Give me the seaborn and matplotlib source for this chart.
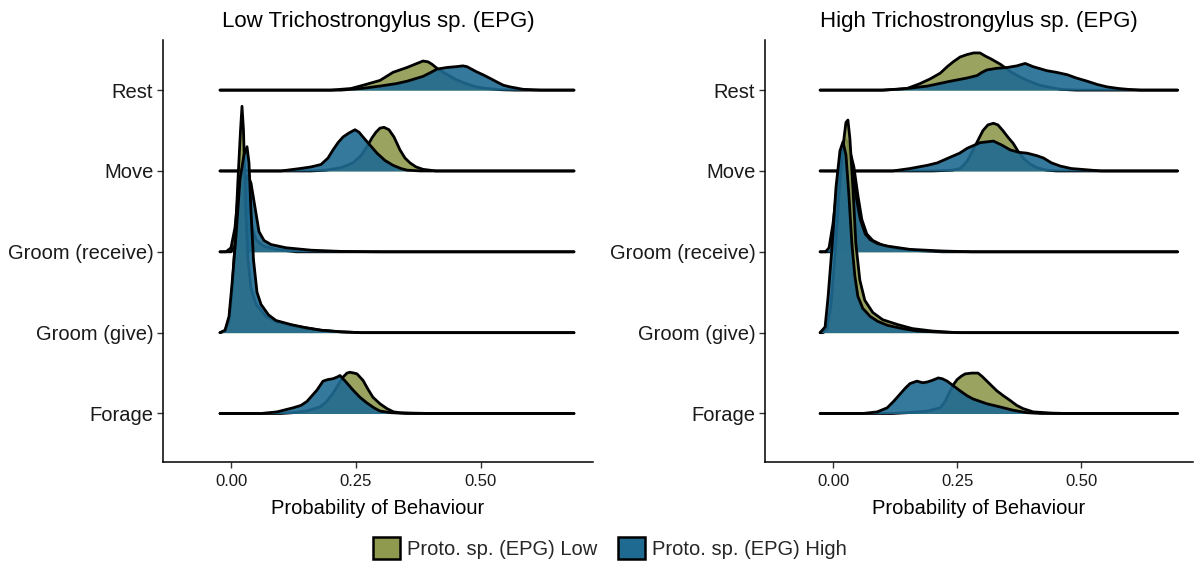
import matplotlib
matplotlib.use("Agg")
import matplotlib.pyplot as plt
import seaborn as sns
import pandas as pd
from matplotlib.patches import Patch

sns.set_theme(style="white")
plt.rcParams['font.family'] = ['Liberation Sans', 'DejaVu Sans']

# ---------------- data ----------------
behaviours = ["Forage", "Groom (give)", "Groom (receive)", "Move", "Rest"]
panel_titles = ["Low Trichostrongylus sp. (EPG)", "High Trichostrongylus sp. (EPG)"]
group_labels = ["Proto. sp. (EPG) Low", "Proto. sp. (EPG) High"]
x_ticks = [0.0, 0.25, 0.5]
x_tick_labels = ["0.00", "0.25", "0.50"]
x_label = "Probability of Behaviour"
data_range = [(-0.022, 0.686), (-0.026, 0.694)]

# scaled ridge heights (x, height in row units)
# ---- Low Trichostrongylus panel ----
lt_rest_low = [(0.20, 0.0), (0.24, 0.02), (0.264, 0.06), (0.298, 0.12), (0.324, 0.22), (0.352, 0.28),
               (0.372, 0.33), (0.384, 0.36), (0.394, 0.35), (0.402, 0.32), (0.412, 0.27), (0.43, 0.2),
               (0.45, 0.13), (0.47, 0.08), (0.49, 0.04), (0.512, 0.02), (0.54, 0.005), (0.57, 0.0)]
lt_rest_high = [(0.22, 0.0), (0.26, 0.02), (0.298, 0.05), (0.33, 0.08), (0.352, 0.11), (0.384, 0.17),
                (0.40, 0.22), (0.412, 0.26), (0.432, 0.28), (0.45, 0.29), (0.464, 0.30), (0.472, 0.29),
                (0.478, 0.27), (0.49, 0.23), (0.504, 0.19), (0.52, 0.14), (0.532, 0.1), (0.545, 0.06),
                (0.558, 0.04), (0.584, 0.01), (0.62, 0.0)]
lt_move_low = [(0.16, 0.0), (0.19, 0.01), (0.22, 0.04), (0.244, 0.1), (0.26, 0.19), (0.272, 0.3),
               (0.282, 0.41), (0.29, 0.48), (0.298, 0.53), (0.306, 0.54), (0.316, 0.51), (0.326, 0.42),
               (0.338, 0.26), (0.348, 0.16), (0.358, 0.1), (0.37, 0.05), (0.384, 0.02), (0.41, 0.0)]
lt_move_high = [(0.10, 0.0), (0.138, 0.03), (0.16, 0.05), (0.18, 0.08), (0.194, 0.16), (0.204, 0.26),
                (0.214, 0.35), (0.224, 0.42), (0.236, 0.47), (0.248, 0.51), (0.256, 0.48), (0.264, 0.42),
                (0.278, 0.32), (0.292, 0.22), (0.308, 0.13), (0.324, 0.07), (0.34, 0.03), (0.352, 0.01),
                (0.38, 0.0)]
lt_grec_low = [(-0.01, 0.0), (0.0, 0.05), (0.008, 0.3), (0.014, 0.7), (0.02, 1.0), (0.026, 0.95),
               (0.032, 0.7), (0.04, 0.35), (0.05, 0.15), (0.065, 0.07), (0.09, 0.03), (0.13, 0.0)]
lt_grec_high = [(0.0, 0.0), (0.01, 0.1), (0.018, 0.4), (0.026, 0.8), (0.033, 0.95), (0.04, 0.85),
                (0.048, 0.55), (0.056, 0.25), (0.066, 0.14), (0.08, 0.09), (0.11, 0.05), (0.16, 0.02),
                (0.22, 0.005), (0.3, 0.0)]
lt_ggive_low = [(-0.012, 0.02), (-0.004, 0.15), (0.002, 0.5), (0.008, 1.1), (0.014, 1.9), (0.019, 2.5),
                (0.022, 2.8), (0.025, 2.5), (0.029, 1.6), (0.034, 0.9), (0.04, 0.55), (0.05, 0.35),
                (0.07, 0.2), (0.09, 0.14), (0.12, 0.09), (0.15, 0.06), (0.18, 0.03), (0.22, 0.01),
                (0.26, 0.0)]
lt_ggive_high = [(-0.012, 0.03), (-0.004, 0.2), (0.002, 0.6), (0.01, 1.2), (0.018, 1.9), (0.026, 2.2),
                 (0.032, 2.3), (0.036, 2.1), (0.04, 1.5), (0.045, 0.9), (0.052, 0.5), (0.06, 0.35),
                 (0.075, 0.22), (0.09, 0.15), (0.12, 0.1), (0.15, 0.06), (0.18, 0.03), (0.22, 0.01),
                 (0.26, 0.0)]
lt_forage_low = [(0.10, 0.0), (0.124, 0.01), (0.15, 0.03), (0.178, 0.08), (0.19, 0.14), (0.204, 0.25),
                 (0.214, 0.35), (0.224, 0.45), (0.232, 0.5), (0.238, 0.51), (0.246, 0.5), (0.252, 0.49),
                 (0.258, 0.45), (0.264, 0.41), (0.274, 0.3), (0.284, 0.2), (0.298, 0.12), (0.312, 0.06),
                 (0.325, 0.02), (0.338, 0.01), (0.36, 0.005), (0.40, 0.0)]
lt_forage_high = [(0.06, 0.0), (0.092, 0.02), (0.124, 0.07), (0.14, 0.1), (0.152, 0.15), (0.162, 0.22),
                  (0.172, 0.29), (0.184, 0.40), (0.194, 0.42), (0.204, 0.43), (0.212, 0.45), (0.218, 0.47),
                  (0.23, 0.39), (0.244, 0.29), (0.258, 0.2), (0.272, 0.13), (0.286, 0.07), (0.298, 0.03),
                  (0.32, 0.01), (0.35, 0.0)]

# ---- High Trichostrongylus panel ----
ht_rest_low = [(0.10, 0.0), (0.13, 0.01), (0.149, 0.02), (0.175, 0.08), (0.196, 0.14), (0.216, 0.21),
               (0.23, 0.29), (0.242, 0.35), (0.256, 0.41), (0.27, 0.44), (0.283, 0.46), (0.296, 0.46),
               (0.307, 0.42), (0.317, 0.39), (0.337, 0.32), (0.357, 0.23), (0.377, 0.16), (0.395, 0.11),
               (0.417, 0.06), (0.44, 0.03), (0.458, 0.01), (0.49, 0.0)]
ht_rest_high = [(0.10, 0.0), (0.149, 0.02), (0.19, 0.05), (0.236, 0.11), (0.27, 0.15), (0.29, 0.18),
                (0.30, 0.22), (0.31, 0.25), (0.33, 0.27), (0.351, 0.28), (0.37, 0.30), (0.387, 0.33),
                (0.395, 0.31), (0.403, 0.29), (0.431, 0.24), (0.45, 0.22), (0.472, 0.19), (0.49, 0.15),
                (0.512, 0.11), (0.532, 0.07), (0.552, 0.04), (0.575, 0.02), (0.593, 0.01), (0.62, 0.0)]
ht_move_low = [(0.20, 0.0), (0.24, 0.01), (0.256, 0.03), (0.27, 0.12), (0.282, 0.26), (0.292, 0.38),
               (0.302, 0.50), (0.312, 0.57), (0.323, 0.59), (0.332, 0.57), (0.342, 0.5), (0.352, 0.42),
               (0.363, 0.34), (0.373, 0.24), (0.383, 0.16), (0.396, 0.09), (0.411, 0.04), (0.43, 0.01),
               (0.45, 0.0)]
ht_move_high = [(0.12, 0.0), (0.155, 0.03), (0.19, 0.07), (0.21, 0.1), (0.236, 0.17), (0.255, 0.22),
                (0.27, 0.28), (0.285, 0.32), (0.296, 0.35), (0.31, 0.36), (0.323, 0.37), (0.34, 0.32),
                (0.357, 0.26), (0.375, 0.23), (0.391, 0.22), (0.41, 0.19), (0.424, 0.16), (0.44, 0.1),
                (0.458, 0.06), (0.48, 0.03), (0.50, 0.02), (0.54, 0.0)]
ht_grec_low = [(-0.005, 0.0), (0.005, 0.1), (0.014, 0.4), (0.022, 0.85), (0.03, 1.15), (0.036, 1.2),
               (0.042, 1.05), (0.05, 0.7), (0.058, 0.4), (0.068, 0.22), (0.08, 0.14), (0.1, 0.08),
               (0.13, 0.04), (0.17, 0.015), (0.22, 0.0)]
ht_grec_high = [(-0.015, 0.0), (-0.008, 0.05), (0.0, 0.35), (0.008, 0.8), (0.016, 1.2), (0.024, 1.4),
                (0.03, 1.35), (0.038, 1.05), (0.046, 0.7), (0.055, 0.4), (0.065, 0.22), (0.075, 0.15),
                (0.09, 0.1), (0.11, 0.07), (0.155, 0.03), (0.22, 0.01), (0.28, 0.0)]
ht_ggive_low = [(-0.02, 0.0), (-0.012, 0.05), (-0.004, 0.35), (0.004, 0.95), (0.012, 1.7), (0.02, 2.3),
                (0.026, 2.6), (0.03, 2.63), (0.034, 2.4), (0.04, 1.8), (0.046, 1.1), (0.054, 0.65),
                (0.064, 0.4), (0.08, 0.25), (0.1, 0.16), (0.13, 0.1), (0.16, 0.05), (0.2, 0.02),
                (0.25, 0.0)]
ht_ggive_high = [(-0.026, 0.0), (-0.016, 0.07), (-0.01, 0.44), (-0.002, 1.06), (0.006, 1.8), (0.014, 2.25),
                 (0.02, 2.36), (0.026, 2.2), (0.032, 1.7), (0.038, 1.1), (0.044, 0.7), (0.05, 0.45),
                 (0.06, 0.3), (0.075, 0.2), (0.09, 0.14), (0.11, 0.09), (0.14, 0.05), (0.17, 0.02),
                 (0.22, 0.005), (0.26, 0.0)]
ht_forage_low = [(0.12, 0.0), (0.15, 0.01), (0.19, 0.03), (0.216, 0.07), (0.226, 0.15), (0.236, 0.28),
                 (0.244, 0.37), (0.25, 0.42), (0.258, 0.46), (0.266, 0.49), (0.28, 0.5), (0.292, 0.5),
                 (0.30, 0.46), (0.31, 0.40), (0.32, 0.34), (0.33, 0.28), (0.343, 0.22), (0.357, 0.16),
                 (0.37, 0.1), (0.383, 0.06), (0.403, 0.02), (0.44, 0.005), (0.47, 0.0)]
ht_forage_high = [(0.06, 0.0), (0.089, 0.02), (0.109, 0.07), (0.122, 0.15), (0.135, 0.24), (0.145, 0.31),
                  (0.155, 0.37), (0.169, 0.40), (0.181, 0.38), (0.19, 0.39), (0.2, 0.41), (0.212, 0.44),
                  (0.22, 0.43), (0.23, 0.40), (0.243, 0.34), (0.256, 0.28), (0.27, 0.22), (0.282, 0.18),
                  (0.296, 0.15), (0.31, 0.12), (0.337, 0.08), (0.363, 0.04), (0.39, 0.01), (0.42, 0.0)]

curves = [
    {"Forage": (lt_forage_low, lt_forage_high), "Groom (give)": (lt_ggive_low, lt_ggive_high),
     "Groom (receive)": (lt_grec_low, lt_grec_high), "Move": (lt_move_low, lt_move_high),
     "Rest": (lt_rest_low, lt_rest_high)},
    {"Forage": (ht_forage_low, ht_forage_high), "Groom (give)": (ht_ggive_low, ht_ggive_high),
     "Groom (receive)": (ht_grec_low, ht_grec_high), "Move": (ht_move_low, ht_move_high),
     "Rest": (ht_rest_low, ht_rest_high)},
]

fill_colors = ["#8f9a4f", "#1f6a91"]
fill_alpha = 0.9

# build long table
rows = []
for p in range(2):
    lo, hi = data_range[p]
    for b_i, beh in enumerate(behaviours):
        for g in range(2):
            pts = curves[p][beh][g]
            full = [(lo, 0.0)] + [pt for pt in pts if lo < pt[0] < hi] + [(hi, 0.0)]
            for x, h in full:
                rows.append({"panel": p, "behaviour": beh, "row": b_i + 1, "group": g,
                             "x": x, "y": b_i + 1 + h})
df = pd.DataFrame(rows)

fig = plt.figure(figsize=(11.96, 5.65), dpi=100)
W, H = 1196, 565
axes_px = [(163, 40, 430, 422), (765, 40, 428, 422)]
xlims = [(-0.136, 0.724), (-0.137, 0.725)]

for p in range(2):
    l, t, w, h = axes_px[p]
    ax = fig.add_axes([l / W, 1 - (t + h) / H, w / W, h / H])
    z = 1
    for b_i in range(len(behaviours) - 1, -1, -1):
        beh = behaviours[b_i]
        for g in range(2):
            sub = df[(df.panel == p) & (df.behaviour == beh) & (df.group == g)]
            ax.fill_between(sub["x"], b_i + 1, sub["y"], color=fill_colors[g], alpha=fill_alpha,
                            lw=0, zorder=z)
            sns.lineplot(x=sub["x"].to_numpy(), y=sub["y"].to_numpy(), ax=ax, color="black",
                         lw=2.0, sort=False, estimator=None, zorder=z + 1, legend=False)
            z += 2
    ax.set_xlim(*xlims[p])
    ax.set_ylim(0.4, 5.62)
    ax.set_yticks(range(1, len(behaviours) + 1))
    ax.set_yticklabels(behaviours, fontsize=14.5, color="#1a1a1a")
    ax.set_xticks(x_ticks)
    ax.set_xticklabels(x_tick_labels, fontsize=12, color="#1a1a1a")
    ax.set_xlabel(x_label, fontsize=14.5, color="black", labelpad=7)
    ax.set_ylabel("")
    ax.set_title(panel_titles[p], fontsize=16, color="black", pad=9)
    for s in ["top", "right"]:
        ax.spines[s].set_visible(False)
    for s in ["left", "bottom"]:
        ax.spines[s].set_visible(True)
        ax.spines[s].set_color("black")
        ax.spines[s].set_linewidth(1.1)
    ax.tick_params(axis="both", which="major", bottom=True, left=True, length=4, width=1,
                   color="#333333")
    ax.tick_params(axis="x", pad=5)
    ax.tick_params(axis="y", pad=3)
    ax.grid(False)
    ax.set_facecolor("white")

handles = [Patch(facecolor=fill_colors[g], alpha=fill_alpha, edgecolor="black", linewidth=1.8,
                 label=group_labels[g]) for g in range(2)]
leg = fig.legend(handles=handles, loc="lower center", bbox_to_anchor=(0.51, -0.022), ncol=2,
                 frameon=False, fontsize=14.5, handlelength=1.35, handleheight=1.35,
                 handletextpad=0.35, columnspacing=1.0)
for hnd in leg.legend_handles:
    hnd.set_edgecolor("black")
    hnd.set_alpha(None)

fig.savefig("out.png", dpi=100, facecolor="white")
